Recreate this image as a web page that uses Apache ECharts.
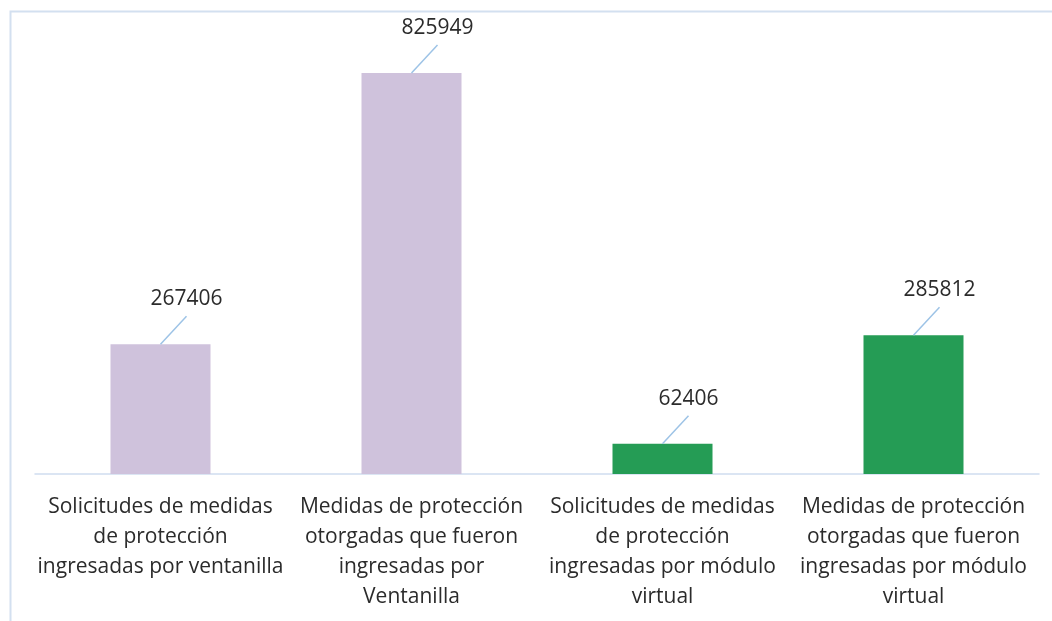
<!DOCTYPE html>
<html>
<head>
<meta charset="utf-8">
<script src="https://cdn.jsdelivr.net/npm/echarts@6/dist/echarts.min.js"></script>
<style>
html,body{margin:0;padding:0;background:#fff;}
#chart{width:1052px;height:621px;}
</style>
</head>
<body>
<div id="chart"></div>
<script>
const categories = [
  'Solicitudes de medidas\nde protección\ningresadas por ventanilla',
  'Medidas de protección\notorgadas que fueron\ningresadas por\nVentanilla',
  'Solicitudes de medidas\nde protección\ningresadas por módulo\nvirtual',
  'Medidas de protección\notorgadas que fueron\ningresadas por módulo\nvirtual'
];
const values = [267406, 825949, 62406, 285812];
const barColors = ['#CFC2DC', '#CFC2DC', '#259C55', '#259C55'];

const FONT = '"Open Sans", sans-serif';
const TEXT = '#2b2b2b';

const chart = echarts.init(document.getElementById('chart'));
chart.setOption({
  animation: false,
  backgroundColor: '#ffffff',
  graphic: [{
    type: 'rect', left: 8, top: 9, z: 100,
    shape: { width: 1200, height: 800 },
    style: { fill: 'none', stroke: '#D3E0F0', lineWidth: 2 }
  }],
  grid: { left: 35, right: 13, top: 37, bottom: 147, containLabel: false },
  xAxis: {
    type: 'category',
    data: categories,
    axisLine: { show: true, lineStyle: { color: '#D0DDEF', width: 1.5 } },
    axisTick: { show: false },
    axisLabel: {
      interval: 0, margin: 18, color: TEXT, fontFamily: FONT, fontSize: 21, lineHeight: 30
    }
  },
  yAxis: {
    type: 'value', min: 0, max: 900000, show: false,
    splitLine: { show: false }
  },
  series: [
    {
      type: 'bar',
      barWidth: 100,
      data: values.map((v, i) => ({ value: v, itemStyle: { color: barColors[i] } }))
    },
    {
      type: 'custom',
      z: 10,
      data: values.map((v, i) => [i, v]),
      encode: { x: 0, y: 1 },
      renderItem: function (params, api) {
        const p = api.coord([api.value(0), api.value(1)]);
        const ex = p[0] + 26, ey = p[1] - 28;
        return {
          type: 'group',
          children: [
            { type: 'line', shape: { x1: p[0], y1: p[1], x2: ex, y2: ey },
              style: { stroke: '#9DC3E6', lineWidth: 1.5 } },
            { type: 'text', x: ex, y: ey - 17,
              style: { text: String(api.value(1)), fill: TEXT, font: '21px ' + FONT,
                       align: 'center', verticalAlign: 'middle' } }
          ]
        };
      }
    }
  ]
});
</script>
</body>
</html>
